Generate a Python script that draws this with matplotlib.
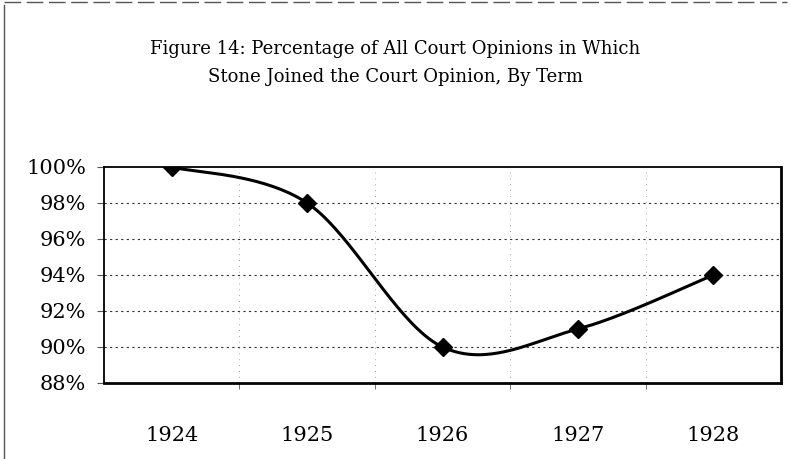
import matplotlib.pyplot as plt
import numpy as np
from matplotlib.lines import Line2D

terms = ['1924', '1925', '1926', '1927', '1928']
pct = [100, 98, 90, 91, 94]
yticks = [88, 90, 92, 94, 96, 98, 100]

plt.rcParams['font.family'] = ['DejaVu Serif']

fig = plt.figure(figsize=(7.91, 4.59), dpi=100)
ax = fig.add_axes([0.1315, 0.1656, 0.8559, 0.4706])

# excel-like smoothed line (bezier through points)
x = np.arange(len(pct), dtype=float)
y = np.array(pct, dtype=float)
xs, ys = [], []
t = np.linspace(0, 1, 40)
for i in range(len(x) - 1):
    p0 = np.array([x[max(i - 1, 0)], y[max(i - 1, 0)]])
    p1 = np.array([x[i], y[i]])
    p2 = np.array([x[i + 1], y[i + 1]])
    p3 = np.array([x[min(i + 2, len(x) - 1)], y[min(i + 2, len(x) - 1)]])
    c1 = p1 + (p2 - p0) / 6
    c2 = p2 - (p3 - p1) / 6
    for tt in t:
        pt = ((1 - tt) ** 3) * p1 + 3 * ((1 - tt) ** 2) * tt * c1 + 3 * (1 - tt) * tt ** 2 * c2 + tt ** 3 * p2
        xs.append(pt[0])
        ys.append(pt[1])

ax.plot(xs, ys, color='black', lw=2.2, zorder=3)
ax.plot(x, y, linestyle='none', marker='D', markersize=9, color='black', zorder=4)

ax.set_xlim(-0.5, 4.5)
ax.set_ylim(88, 100)
ax.set_yticks(yticks)
ax.set_yticklabels([f'{v}%' for v in yticks], fontsize=15)
ax.set_xticks(x)
ax.set_xticklabels(terms, fontsize=15)
ax.set_xticks(np.arange(0.5, 4.5, 1), minor=True)
ax.tick_params(axis='x', which='major', length=0, pad=31)
ax.tick_params(axis='x', which='minor', length=4, direction='out', color='#555555')
ax.tick_params(axis='y', length=5, direction='out', pad=8, color='#555555')

for v in yticks[1:-1]:
    ax.axhline(v, color='#333333', lw=0.8, linestyle=(0, (2, 3)), zorder=1)
for v in np.arange(0.5, 4.5, 1):
    ax.axvline(v, color='#888888', lw=0.6, linestyle=(0, (1, 6)), zorder=1)

for s in ax.spines.values():
    s.set_linewidth(1.3)
ax.spines['bottom'].set_linewidth(2)
ax.spines['right'].set_linewidth(2)

fig.text(0.5, 0.862, 'Figure 14: Percentage of All Court Opinions in Which\nStone Joined the Court Opinion, By Term',
         fontsize=13, ha='center', va='center', multialignment='center', linespacing=1.7)

fig.add_artist(Line2D([0.005, 0.005], [0.0, 0.99], transform=fig.transFigure, color='#555555', lw=1))
fig.add_artist(Line2D([0.005, 0.995], [0.995, 0.995], transform=fig.transFigure, color='#555555', lw=1,
                      linestyle=(0, (12, 4))))

plt.savefig('out.png', dpi=100)
